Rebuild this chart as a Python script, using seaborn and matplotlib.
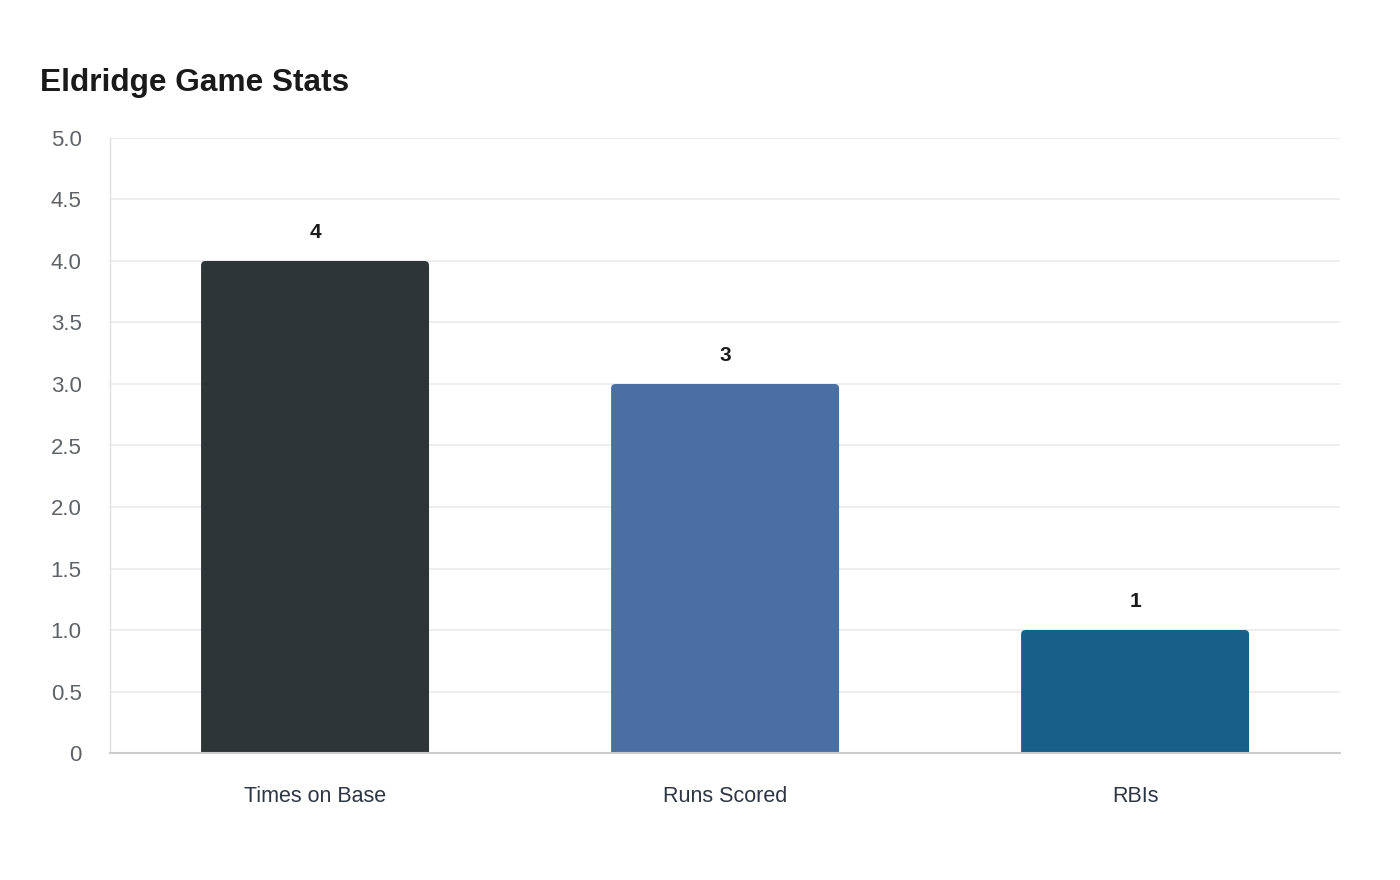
import seaborn as sns
import matplotlib.pyplot as plt
import pandas as pd
from matplotlib.patches import FancyBboxPatch
from matplotlib.ticker import FuncFormatter

categories = ['Times on Base', 'Runs Scored', 'RBIs']
values = [4, 3, 1]
colors = ['#2e3537', '#4a6fa5', '#186087']
y_ticks = [0, 0.5, 1.0, 1.5, 2.0, 2.5, 3.0, 3.5, 4.0, 4.5, 5.0]

df = pd.DataFrame({'stat': categories, 'value': values})

sns.set_style('white')
plt.rcParams['font.family'] = ['Liberation Sans', 'DejaVu Sans']

fig = plt.figure(figsize=(14, 8.8), dpi=100)
ax = fig.add_axes([0.0786, 0.1443, 0.8786, 0.6989])

sns.barplot(data=df, x='stat', y='value', hue='stat', palette=colors,
            width=0.556, legend=False, ax=ax, zorder=3)

# rounded tops only: push the bottom below the axis so it gets clipped
for patch, color in zip(list(ax.patches), colors):
    x0, y0 = patch.get_x(), patch.get_y()
    w, h = patch.get_width(), patch.get_height()
    patch.remove()
    rb = FancyBboxPatch((x0, y0 - 0.1), w, h + 0.1, boxstyle='round,pad=0,rounding_size=0.011',
                        mutation_aspect=3.3, facecolor=color, edgecolor='none', zorder=3)
    ax.add_patch(rb)

for i, v in enumerate(values):
    ax.annotate(str(v), (i, v), xytext=(0, 20.5), textcoords='offset points',
                ha='center', va='center', fontsize=15, fontweight='bold', color='#1a1a1a')

ax.set_xlim(-0.5, 2.5)
ax.set_ylim(0, 5)
ax.set_yticks(y_ticks)
ax.yaxis.set_major_formatter(FuncFormatter(lambda v, p: '0' if v == 0 else f'{v:.1f}'))
ax.grid(axis='y', color='#ebebeb', linewidth=1.2, zorder=0)
ax.set_axisbelow(True)

for s in ['top', 'right']:
    ax.spines[s].set_visible(False)
ax.spines['left'].set_color('#e0e0e0')
ax.spines['left'].set_linewidth(1)
ax.spines['bottom'].set_color('#cccccc')
ax.spines['bottom'].set_linewidth(1.5)
ax.spines['bottom'].set_zorder(4)

ax.tick_params(axis='y', length=11, color='#ebebeb', width=1.2, labelsize=16,
               labelcolor='#5f6368', pad=9.5)
ax.tick_params(axis='x', length=0, labelsize=15.5, labelcolor='#2d3642', pad=24)
ax.set_xlabel('')
ax.set_ylabel('')

fig.text(40 / 1400, 1 - 91 / 880, 'Eldridge Game Stats', fontsize=22.8, fontweight='bold',
         color='#1a1a1a', ha='left', va='baseline')

plt.savefig('out.png', dpi=100, facecolor='white')
